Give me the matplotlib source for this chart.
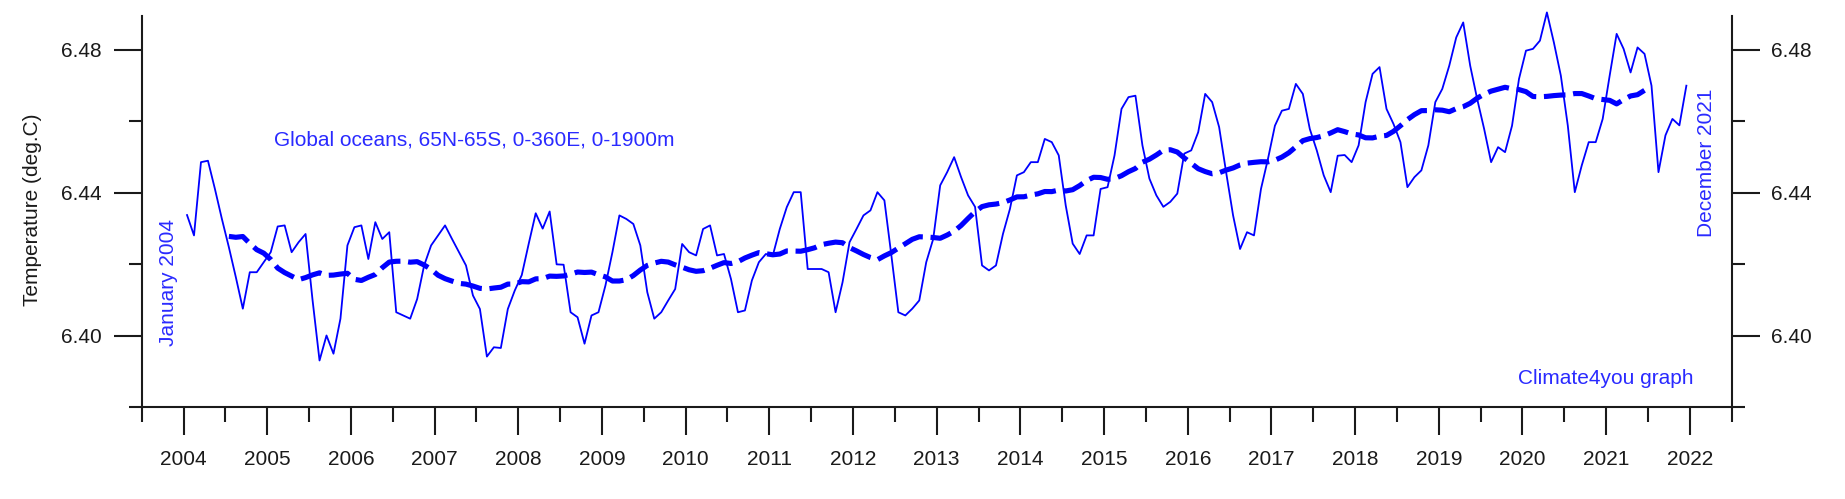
import numpy as np
import pandas as pd
import matplotlib
matplotlib.use("Agg")
import matplotlib.pyplot as plt
from matplotlib.ticker import MultipleLocator, FixedLocator

# Monthly global ocean temperature 0-1900 m (deg C), Jan..Dec
y2004 = [6.4338, 6.4281, 6.4486, 6.4490, 6.4411, 6.4327, 6.4248, 6.4164, 6.4076, 6.4178, 6.4178, 6.4206]
y2005 = [6.4234, 6.4306, 6.4309, 6.4234, 6.4262, 6.4285, 6.4100, 6.3931, 6.4001, 6.3950, 6.4048, 6.4253]
y2006 = [6.4304, 6.4309, 6.4215, 6.4318, 6.4271, 6.4290, 6.4066, 6.4057, 6.4048, 6.4103, 6.4197, 6.4253]
y2007 = [6.4281, 6.4309, 6.4271, 6.4234, 6.4197, 6.4113, 6.4075, 6.3942, 6.3968, 6.3966, 6.4075, 6.4127]
y2008 = [6.4170, 6.4258, 6.4343, 6.4300, 6.4348, 6.4200, 6.4199, 6.4066, 6.4052, 6.3978, 6.4057, 6.4066]
y2009 = [6.4141, 6.4234, 6.4337, 6.4327, 6.4313, 6.4253, 6.4122, 6.4048, 6.4066, 6.4099, 6.4131, 6.4257]
y2010 = [6.4234, 6.4225, 6.4299, 6.4309, 6.4225, 6.4229, 6.4159, 6.4066, 6.4071, 6.4155, 6.4206, 6.4229]
y2011 = [6.4225, 6.4299, 6.4360, 6.4402, 6.4402, 6.4187, 6.4187, 6.4187, 6.4178, 6.4066, 6.4150, 6.4262]
y2012 = [6.4299, 6.4337, 6.4351, 6.4402, 6.4379, 6.4225, 6.4066, 6.4057, 6.4076, 6.4099, 6.4206, 6.4271]
y2013 = [6.4421, 6.4458, 6.4500, 6.4444, 6.4393, 6.4361, 6.4197, 6.4183, 6.4197, 6.4285, 6.4355, 6.4449]
y2014 = [6.4458, 6.4486, 6.4486, 6.4551, 6.4542, 6.4505, 6.4365, 6.4258, 6.4229, 6.4281, 6.4281, 6.4411]
y2015 = [6.4416, 6.4505, 6.4635, 6.4668, 6.4672, 6.4533, 6.4440, 6.4393, 6.4361, 6.4375, 6.4398, 6.4510]
y2016 = [6.4519, 6.4570, 6.4677, 6.4654, 6.4584, 6.4458, 6.4337, 6.4243, 6.4290, 6.4281, 6.4411, 6.4495]
y2017 = [6.4588, 6.4630, 6.4635, 6.4705, 6.4677, 6.4579, 6.4519, 6.4449, 6.4402, 6.4504, 6.4506, 6.4486]
y2018 = [6.4533, 6.4654, 6.4733, 6.4752, 6.4635, 6.4593, 6.4542, 6.4416, 6.4444, 6.4463, 6.4533, 6.4654]
y2019 = [6.4691, 6.4756, 6.4835, 6.4877, 6.4756, 6.4663, 6.4579, 6.4486, 6.4528, 6.4514, 6.4588, 6.4719]
y2020 = [6.4798, 6.4803, 6.4826, 6.4905, 6.4821, 6.4728, 6.4588, 6.4402, 6.4477, 6.4542, 6.4542, 6.4607]
y2021 = [6.4728, 6.4845, 6.4803, 6.4737, 6.4807, 6.4789, 6.4700, 6.4458, 6.4561, 6.4607, 6.4589, 6.4700]

years = list(range(2004, 2022))
yearly = [y2004, y2005, y2006, y2007, y2008, y2009, y2010, y2011, y2012,
          y2013, y2014, y2015, y2016, y2017, y2018, y2019, y2020, y2021]

year_ticks = list(range(2004, 2023))
y_major = [6.40, 6.44, 6.48]
y_minor = [6.38, 6.42, 6.46]

title_text = "Global oceans, 65N-65S, 0-360E, 0-1900m"
start_text = "January 2004"
end_text = "December 2021"
credit_text = "Climate4you graph"
ylabel_text = "Temperature (deg.C)"

# ---- build series
temps = np.concatenate([np.array(v) for v in yearly])
t = np.array([yr + (m + 0.5) / 12.0 for yr in years for m in range(12)])
running = pd.Series(temps).rolling(13, center=True).mean().to_numpy()

W, H = 1845, 499
fig = plt.figure(figsize=(W / 100, H / 100), dpi=100)
L, R, T, B = 141.7, 1731.7, 16.0, 407.3
ax = fig.add_axes([L / W, 1 - B / H, (R - L) / W, (B - T) / H])

plt.rcParams['font.family'] = ['Liberation Sans', 'DejaVu Sans']
FS = 15
blue = "#0000ff"
txtblue = "#2a2aff"
dark = "#1a1a1a"

ax.plot(t, temps, color=blue, lw=1.3, clip_on=False, zorder=3)
ax.plot(t, running, color=blue, lw=3.7, dashes=(4.2, 1.5),
        solid_capstyle='butt', dash_capstyle='butt', zorder=4)

ax.set_xlim(2003.5, 2022.5)
ax.set_ylim(6.38, 6.4895)

for s in ["top"]:
    ax.spines[s].set_visible(False)
for s in ["left", "right", "bottom"]:
    ax.spines[s].set_linewidth(1.5)
    ax.spines[s].set_color(dark)

ax.xaxis.set_major_locator(FixedLocator(year_ticks))
ax.xaxis.set_minor_locator(MultipleLocator(0.5))
ax.set_xticklabels([str(y) for y in year_ticks], fontsize=FS, color=dark,
                   fontfamily=['Liberation Sans', 'DejaVu Sans'])
ax.tick_params(axis='x', which='major', direction='out', length=20, width=1.5,
               pad=11, colors=dark)
ax.tick_params(axis='x', which='minor', direction='out', length=11, width=1.5,
               colors=dark)

ax.yaxis.set_major_locator(FixedLocator(y_major))
ax.yaxis.set_minor_locator(FixedLocator(y_minor))
ax.set_yticklabels([f"{v:.2f}" for v in y_major], fontsize=FS, color=dark,
                   fontfamily=['Liberation Sans', 'DejaVu Sans'])
ax.tick_params(axis='y', which='major', direction='out', length=20, width=1.5,
               pad=8.5, colors=dark, left=True, right=True,
               labelleft=True, labelright=True)
ax.tick_params(axis='y', which='minor', direction='out', length=9.5, width=1.5,
               colors=dark, left=True, right=True)

fig.text(33 / W, 1 - 210 / H, ylabel_text, rotation=90, ha='center', va='center',
         fontsize=FS, color=dark)
fig.text(274 / W, 1 - 140 / H, title_text, ha='left', va='center',
         fontsize=FS, color=txtblue)
fig.text(168 / W, 1 - 282 / H, start_text, rotation=90, ha='center', va='center',
         fontsize=FS, color=txtblue)
fig.text(1707 / W, 1 - 163 / H, end_text, rotation=90, ha='center', va='center',
         fontsize=FS, color=txtblue)
fig.text(1605.5 / W, 1 - 378 / H, credit_text, ha='center', va='center',
         fontsize=FS, color=txtblue)

fig.savefig("out.png", dpi=100, facecolor="white")
